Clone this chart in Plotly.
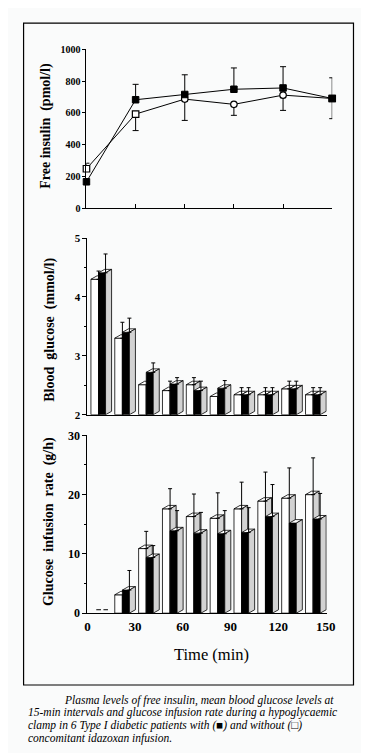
import plotly.graph_objects as go

W, H = 369, 753

# ---------------- data ----------------
insulin_time = [0, 30, 60, 90, 120, 150]
insulin_with = [167, 683, 716, 749, 757, 691]
insulin_with_err_up = [0, 97, 124, 134, 134, 130]
insulin_with_err_down = [15, 0, 0, 0, 0, 0]
insulin_without = [249, 593, 687, 654, 712, 691]
insulin_without_err_up = [35, 0, 0, 0, 0, 0]
insulin_without_err_down = [0, 104, 134, 69, 96, 127]

interval_start = [0, 15, 30, 45, 60, 75, 90, 105, 120, 135]

glucose_without = [4.30, 3.30, 2.51, 2.41, 2.51, 2.31, 2.34, 2.34, 2.44, 2.34]
glucose_without_err = [0.14, 0.27, 0.0, 0.16, 0.12, 0.0, 0.12, 0.12, 0.13, 0.12]
glucose_with = [4.41, 3.40, 2.72, 2.52, 2.41, 2.45, 2.34, 2.34, 2.44, 2.34]
glucose_with_err = [0.32, 0.24, 0.16, 0.11, 0.16, 0.13, 0.12, 0.12, 0.13, 0.12]

infusion_without = [0, 3.1, 10.9, 17.6, 16.3, 16.0, 17.6, 18.9, 19.4, 20.0]
infusion_without_err = [0, 0, 2.9, 3.4, 3.8, 4.3, 4.5, 4.9, 5.1, 6.2]
infusion_with = [0, 3.9, 9.4, 13.9, 13.5, 13.4, 13.6, 16.3, 15.2, 15.9]
infusion_with_err = [0, 3.3, 2.0, 3.4, 3.5, 3.9, 4.2, 5.4, 0, 4.3]

insulin_ticks = [0, 200, 400, 600, 800, 1000]
glucose_ticks = [2, 3, 4, 5]
infusion_ticks = [0, 10, 20, 30]
time_ticks = [0, 30, 60, 90, 120, 150]

# ---------------- style / geometry ----------------
SERIF = "Liberation Serif"
BG = "#fafbfb"
SIDE_GRAY = "#d2d2d2"
GROUP_OFFSET = 2.2
WHITE_W = 4.8
BLACK_W = 4.4
DEPTH_X = 3.8
DEPTH_PX = 3.5

# pixel layout
TOP_X = (78, 332)
TOP_Y = (197, 35)
BAR_X0 = 79
BAR_PX_PER_MIN = 1.643
BAR_XMAX = 150.5
MID_Y = (407.3, 227.3)
BOT_Y = (609.5, 428.3)

def xd(a, b):
    return [a / W, b / W]

def yd(bottom_px, top_px):
    return [1 - bottom_px / H, 1 - top_px / H]

fig = go.Figure()


def add_bar_series(xa, ya, starts, vals, width, base, dyv, face_color):
    fx, fy, tx, ty, sx, sy, dx_, dy_ = [], [], [], [], [], [], [], []
    for s, v in zip(starts, vals):
        x0, x1 = s, s + width
        if v <= base:
            dx_ += [x0 + 0.7 * width, x1 + 0.4 * DEPTH_X, None]
            dy_ += [base + dyv, base + dyv, None]
            continue
        fx += [x0, x0, x1, x1, x0, None]
        fy += [base, v, v, base, base, None]
        tx += [x0, x0 + DEPTH_X, x1 + DEPTH_X, x1, x0, None]
        ty += [v, v + dyv, v + dyv, v, v, None]
        sx += [x1, x1, x1 + DEPTH_X, x1 + DEPTH_X, x1, None]
        sy += [base, v, v + dyv, base + dyv, base, None]
    for xs, ys, fc in ((fx, fy, face_color), (tx, ty, "white"), (sx, sy, SIDE_GRAY)):
        if xs:
            fig.add_trace(go.Scatter(x=xs, y=ys, xaxis=xa, yaxis=ya, mode="lines",
                                     fill="toself", fillcolor=fc,
                                     line=dict(color="black", width=0.8),
                                     hoverinfo="skip", showlegend=False))
    if dx_:
        fig.add_trace(go.Scatter(x=dx_, y=dy_, xaxis=xa, yaxis=ya, mode="lines",
                                 line=dict(color="black", width=1),
                                 hoverinfo="skip", showlegend=False))


def add_err(xa, ya, xs, vals, errs):
    ys = [v if e > 0 else None for v, e in zip(vals, errs)]
    fig.add_trace(go.Scatter(x=xs, y=ys, xaxis=xa, yaxis=ya, mode="markers",
                             marker=dict(size=1, color="rgba(0,0,0,0)"),
                             error_y=dict(type="data", symmetric=False, array=errs,
                                          arrayminus=[0] * len(errs), color="black",
                                          thickness=1, width=2),
                             cliponaxis=False, hoverinfo="skip", showlegend=False))


def add_bar_panel(xa, ya, base, px_per_unit, w_vals, w_err, b_vals, b_err):
    dyv = DEPTH_PX / px_per_unit
    w_start = [t + GROUP_OFFSET for t in interval_start]
    b_start = [t + GROUP_OFFSET + WHITE_W for t in interval_start]
    add_bar_series(xa, ya, w_start, w_vals, WHITE_W, base, dyv, "white")
    add_bar_series(xa, ya, b_start, b_vals, BLACK_W, base, dyv, "black")
    add_err(xa, ya, [s + WHITE_W for s in w_start], w_vals, w_err)
    add_err(xa, ya, [s + BLACK_W for s in b_start], b_vals, b_err)


# ---------------- top panel: insulin ----------------
open_symbols = ["square", "square", "circle", "circle", "circle", "square"]
fig.add_trace(go.Scatter(
    x=insulin_time, y=insulin_without, xaxis="x", yaxis="y", mode="lines+markers",
    line=dict(color="black", width=1),
    marker=dict(symbol=open_symbols, size=6.5, color="white", line=dict(color="black", width=1.2)),
    error_y=dict(type="data", symmetric=False, array=insulin_without_err_up,
                 arrayminus=insulin_without_err_down, color="black", thickness=1, width=3),
    cliponaxis=False, showlegend=False))
fig.add_trace(go.Scatter(
    x=insulin_time, y=insulin_with, xaxis="x", yaxis="y", mode="lines+markers",
    line=dict(color="black", width=1),
    marker=dict(symbol="square", size=6.5, color="black", line=dict(color="black", width=1)),
    error_y=dict(type="data", symmetric=False, array=insulin_with_err_up,
                 arrayminus=insulin_with_err_down, color="black", thickness=1, width=3),
    cliponaxis=False, showlegend=False))

# ---------------- middle & bottom panels ----------------
mid_ppu = (MID_Y[0] - MID_Y[1]) / (glucose_ticks[-1] - glucose_ticks[0])
bot_ppu = (BOT_Y[0] - BOT_Y[1]) / (infusion_ticks[-1] - infusion_ticks[0])
add_bar_panel("x2", "y2", glucose_ticks[0], mid_ppu, glucose_without, glucose_without_err,
              glucose_with, glucose_with_err)
add_bar_panel("x3", "y3", infusion_ticks[0], bot_ppu, infusion_without, infusion_without_err,
              infusion_with, infusion_with_err)

# ---------------- axes ----------------
line_common = dict(showline=True, linecolor="black", linewidth=1, showgrid=False,
                   zeroline=False, fixedrange=True)
ytick_font = lambda s: dict(family=SERIF, size=s, color="black", weight="bold")
bar_dom = xd(BAR_X0, BAR_X0 + BAR_XMAX * BAR_PX_PER_MIN)

fig.update_layout(
    xaxis=dict(domain=xd(*TOP_X), range=[0, 150], anchor="y", tickvals=time_ticks[1:],
               ticks="inside", ticklen=4, tickcolor="black", showticklabels=False, **line_common),
    yaxis=dict(domain=yd(*TOP_Y), range=[0, 1000], anchor="x", tickvals=insulin_ticks,
               ticks="outside", ticklen=3, tickcolor="black", tickfont=ytick_font(10),
               **line_common),
    xaxis2=dict(domain=bar_dom, range=[0, BAR_XMAX], anchor="y2", ticks="",
                showticklabels=False, **line_common),
    yaxis2=dict(domain=yd(*MID_Y), range=[2, 5], anchor="x2", tickvals=glucose_ticks,
                ticks="outside", ticklen=4, tickcolor="black", tickfont=ytick_font(11),
                minor=dict(dtick=0.5, ticks="outside", ticklen=2, tickcolor="black"),
                **line_common),
    xaxis3=dict(domain=bar_dom, range=[0, BAR_XMAX], anchor="y3", tickvals=time_ticks,
                ticks="", tickfont=dict(family=SERIF, size=13, color="black", weight="bold"),
                ticklabelstandoff=1, **line_common),
    yaxis3=dict(domain=yd(*BOT_Y), range=[0, 30], anchor="x3", tickvals=infusion_ticks,
                ticks="outside", ticklen=4, tickcolor="black", tickfont=ytick_font(12),
                minor=dict(dtick=5, ticks="outside", ticklen=2, tickcolor="black"),
                **line_common),
)

# ---------------- texts ----------------
def ann(text, xpx, ypx, size, angle=0, weight="bold", italic=False, xanchor="center"):
    fig.add_annotation(text=text, x=xpx / W, y=1 - ypx / H, xref="paper", yref="paper",
                       showarrow=False, textangle=angle, xanchor=xanchor, yanchor="middle",
                       font=dict(family=SERIF, size=size, color="black", weight=weight,
                                 style="italic" if italic else "normal"))

ann("Free insulin  (pmol/l)", 36, 113, 14, angle=-90)
ann("Blood  glucose  (mmol/l)", 40, 321, 14, angle=-90)
ann("Glucose  infusion  rate  (g/h)", 40, 516, 14, angle=-90)
ann("Time (min)", 207.5, 652, 16.5, weight="normal")

caption = [
    (53, 698, "Plasma levels of free insulin, mean blood glucose levels at"),
    (15, 711, "15-min intervals and glucose infusion rate during a hypoglycaemic"),
    (15, 724, "clamp in 6 Type I diabetic patients with (\u25a0) and without (\u25a1)"),
    (15, 737, "concomitant idazoxan infusion."),
]
for xpx, ypx, line in caption:
    ann(line, xpx, ypx, 11.5, weight="normal", italic=True, xanchor="left")

# frame
fig.add_shape(type="rect", xref="paper", yref="paper", x0=13 / W, x1=354 / W,
              y0=1 - 682.7 / H, y1=1 - 8.3 / H, line=dict(color="black", width=1.2))

fig.update_layout(width=W, height=H, margin=dict(l=0, r=0, t=0, b=0),
                  paper_bgcolor=BG, plot_bgcolor=BG, showlegend=False)

fig.write_html("out.html")
